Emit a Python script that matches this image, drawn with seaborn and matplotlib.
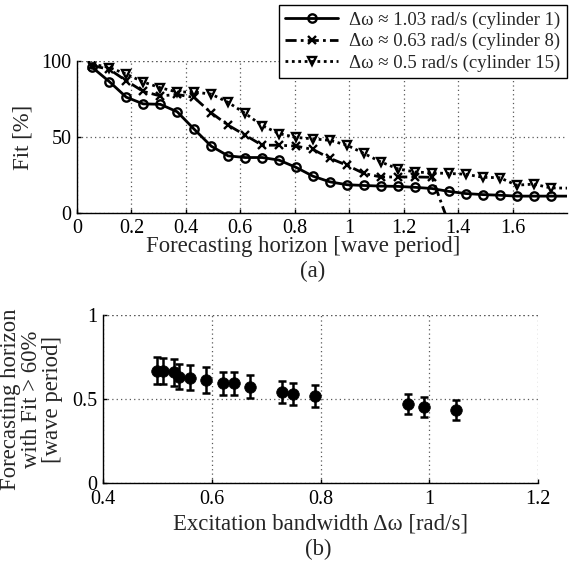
import matplotlib
matplotlib.use("Agg")
import matplotlib.pyplot as plt
import pandas as pd
import seaborn as sns

# (a) fit vs forecasting horizon, one series per cylinder
HORIZON = [0.056, 0.119, 0.181, 0.243, 0.306, 0.368, 0.430, 0.493, 0.555, 0.618,
           0.680, 0.742, 0.805, 0.867, 0.929, 0.992, 1.054, 1.116, 1.179, 1.241,
           1.304, 1.366, 1.428, 1.491, 1.553, 1.615, 1.678, 1.740, 1.830]
FIT_CYL1 = [95.8, 86.4, 76.2, 71.8, 71.5, 66.6, 55.2, 44.0, 37.6, 36.5,
            36.5, 34.8, 30.0, 24.2, 20.5, 18.6, 18.1, 17.7, 17.5, 16.9,
            16.1, 14.2, 12.8, 12.1, 11.7, 11.1, 11.1, 11.1, 11.1]
FIT_CYL8 = [97.0, 94.5, 87.0, 80.0, 77.0, 78.0, 76.0, 65.9, 57.8, 51.2,
            44.6, 44.6, 44.0, 41.8, 36.0, 31.4, 26.0, 23.7, 23.7, 23.7,
            23.5, -7.0]
FIT_CYL15 = [98.0, 95.7, 91.4, 86.2, 82.4, 79.6, 79.6, 78.2, 72.8, 65.5,
             57.5, 52.3, 49.7, 48.8, 47.8, 44.6, 39.2, 33.6, 29.0, 27.0,
             26.4, 26.0, 25.5, 23.5, 23.2, 18.3, 19.0, 16.5, 16.3]
LABELS = ["Δω ≈ 1.03 rad/s (cylinder 1)",
          "Δω ≈ 0.63 rad/s (cylinder 8)",
          "Δω ≈ 0.5 rad/s (cylinder 15)"]

# (b) horizon with Fit > 60% vs excitation bandwidth
BANDWIDTH = [0.50, 0.51, 0.53, 0.54, 0.56, 0.59, 0.62, 0.64, 0.67, 0.73,
             0.75, 0.79, 0.96, 0.99, 1.05]
HORIZON_60 = [0.668, 0.667, 0.659, 0.633, 0.627, 0.613, 0.593, 0.593, 0.573, 0.544,
              0.530, 0.516, 0.470, 0.454, 0.436]
HORIZON_60_ERR = [0.08, 0.08, 0.08, 0.075, 0.075, 0.075, 0.07, 0.07, 0.07, 0.065,
                  0.065, 0.065, 0.06, 0.06, 0.06]

sns.set_theme(style="white")
plt.rcParams["font.family"] = ["Liberation Serif", "DejaVu Serif"]

W, H = 579, 564
fig = plt.figure(figsize=(W / 100, H / 100), dpi=100)
ax1 = fig.add_axes([77 / W, 1 - 213 / H, 490 / W, 152 / H])
ax2 = fig.add_axes([103 / W, 1 - 483 / H, 435 / W, 168 / H])

grid_kw = dict(color="0.35", linestyle=(0, (1, 2.5)), linewidth=0.9)
fs_tick = 14.5
fs_lab = 16.4

series = [
    (HORIZON, FIT_CYL1, "o", "-"),
    (HORIZON[:len(FIT_CYL8)], FIT_CYL8, "x", (0, (4, 1.5, 1, 1.5))),
    (HORIZON, FIT_CYL15, "v", (0, (1, 1.3))),
]
for (xs, ys, mk, ls), lab in zip(series, LABELS):
    df = pd.DataFrame({"horizon": xs, "fit": ys})
    sns.lineplot(data=df, x="horizon", y="fit", ax=ax1, color="black",
                 marker=mk, linestyle=ls, linewidth=2, markersize=6,
                 markerfacecolor="none", markeredgecolor="black",
                 markeredgewidth=1.7, label=lab, legend=False)

ax1.set_xlim(0, 1.8)
ax1.set_ylim(0, 100)
ax1.set_xticks([0, 0.2, 0.4, 0.6, 0.8, 1, 1.2, 1.4, 1.6])
ax1.set_xticklabels(["0", "0.2", "0.4", "0.6", "0.8", "1", "1.2", "1.4", "1.6"])
ax1.set_yticks([0, 50, 100])
ax1.set_yticklabels(["0", "50", "100"])
ax1.set_xlabel("Forecasting horizon [wave period]", fontsize=fs_lab)
ax1.set_ylabel("Fit [%]", fontsize=fs_lab)
ax1.xaxis.set_label_coords((303 - 77) / 490, -0.15)
ax1.yaxis.set_label_coords((34 - 77) / 490, 0.5)

ax2.errorbar(BANDWIDTH, HORIZON_60, yerr=HORIZON_60_ERR, fmt="none",
             ecolor="black", elinewidth=1.8, capsize=3, capthick=1.8)
sns.scatterplot(x=BANDWIDTH, y=HORIZON_60, ax=ax2, color="black", s=70,
                edgecolor="black", linewidth=0.5, zorder=3)
ax2.set_xlim(0.4, 1.2)
ax2.set_ylim(0, 1)
ax2.set_xticks([0.4, 0.6, 0.8, 1, 1.2])
ax2.set_xticklabels(["0.4", "0.6", "0.8", "1", "1.2"])
ax2.set_yticks([0, 0.5, 1])
ax2.set_yticklabels(["0", "0.5", "1"])
ax2.set_xlabel("Excitation bandwidth Δω [rad/s]", fontsize=fs_lab)
ax2.set_ylabel("Forecasting horizon\nwith Fit > 60%\n[wave period]", fontsize=fs_lab,
               linespacing=1.0)
ax2.xaxis.set_label_coords(0.5, -0.18)
ax2.yaxis.set_label_coords((63 - 103) / 435, 0.5)

for ax in (ax1, ax2):
    ax.grid(True, **grid_kw)
    ax.set_axisbelow(True)
    for side in ("top", "right"):
        ax.spines[side].set_visible(False)
    for side in ("left", "bottom"):
        ax.spines[side].set_color("black")
        ax.spines[side].set_linewidth(1.0)
    ax.tick_params(direction="in", length=3, width=1, colors="black",
                   labelsize=fs_tick, bottom=True, left=True)
ax1.tick_params(axis="y", pad=4)
ax1.tick_params(axis="x", pad=4)
ax2.tick_params(axis="y", pad=4)
ax2.tick_params(axis="x", pad=5)
ax1.axhline(100, **grid_kw)
ax2.axhline(1, **grid_kw)

handles, labels = ax1.get_legend_handles_labels()
fig.legend(handles, labels, loc="upper right",
           bbox_to_anchor=(567 / W, 1 - 5 / H), borderaxespad=0,
           fontsize=13.5, frameon=True, fancybox=False, framealpha=1,
           edgecolor="black", numpoints=1, handlelength=2.8,
           labelspacing=0.22, borderpad=0.35, handletextpad=0.6)

fig.text(313 / W, 1 - 271 / H, "(a)", ha="center", va="center", fontsize=fs_lab)
fig.text(318 / W, 1 - 549 / H, "(b)", ha="center", va="center", fontsize=fs_lab)

fig.savefig("out.png", dpi=100)
